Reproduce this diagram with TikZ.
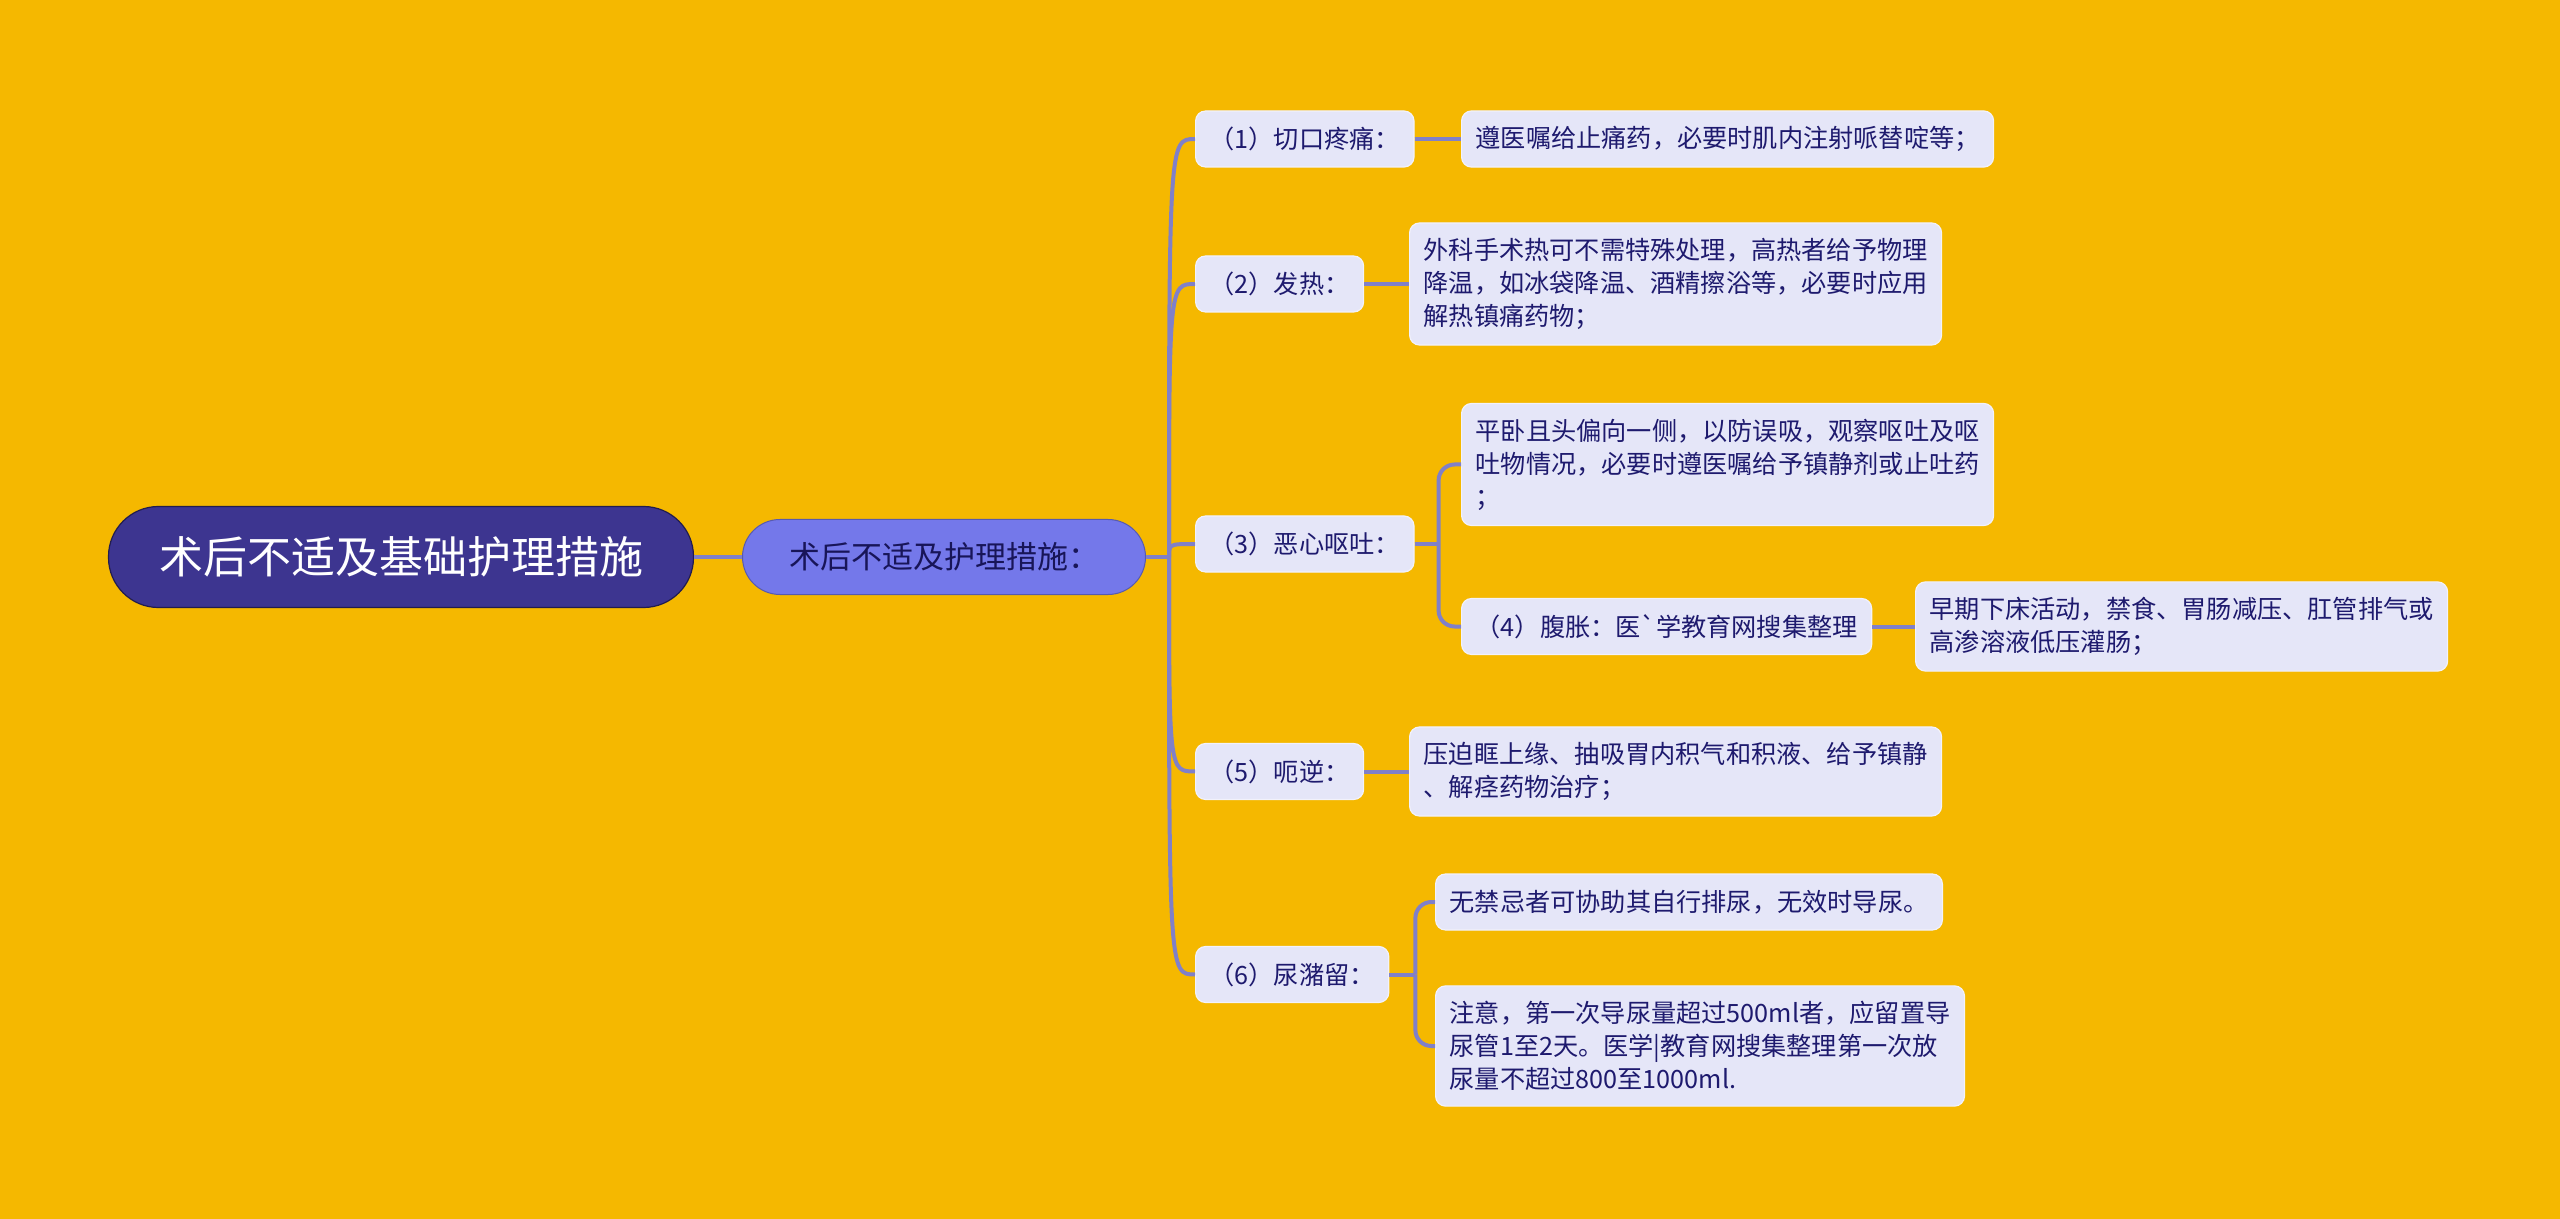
\documentclass[tikz,border=0pt]{standalone}
\usepackage{fontspec}
\setmainfont{Noto Sans CJK SC}
\usepackage{tikz}
\usetikzlibrary{calc}
\usepackage{xcolor}

\definecolor{bgyellow}{HTML}{F5B800}
\definecolor{rootpurple}{HTML}{3D3590}
\definecolor{mainblue}{HTML}{7478EA}
\definecolor{itemfill}{HTML}{E5E6F8}
\definecolor{linkcolor}{HTML}{8080C8}
\definecolor{inkblue}{HTML}{1E1A6E}

\begin{document}
\begin{tikzpicture}[x=0.5pt,y=-0.5pt,
    root/.style={rectangle, rounded corners=25pt, fill=rootpurple, draw=rootpurple!55!black,
        line width=0.6pt, text=white, minimum width=292.5pt, minimum height=50.5pt,
        font=\fontsize{22pt}{26pt}\selectfont},
    main/.style={rectangle, rounded corners=18.75pt, fill=mainblue, draw=mainblue!75!black,
        line width=0.5pt, text=inkblue!80!black, minimum width=201.5pt, minimum height=37.5pt,
        font=\fontsize{15.5pt}{18pt}\selectfont},
    item/.style={rectangle, rounded corners=5pt, fill=itemfill, draw=itemfill!50!white,
        line width=0.6pt, text=inkblue, anchor=west, align=left, inner xsep=7pt,
        inner ysep=7.7pt, minimum height=28pt, font=\fontsize{12.6pt}{16.5pt}\selectfont},
    link/.style={draw=linkcolor, line width=2pt},
    trunk/.style={link, to path={.. controls (\tikztostart |- \tikztotarget) .. (\tikztotarget)}},
    elbow/.style={link, rounded corners=8pt, to path={|- (\tikztotarget)}}
]
    \fill[bgyellow] (0,0) rectangle (2560,1219);
    \useasboundingbox (0,0) rectangle (2560,1219);

    % centre
    \node[root](topic) at (401,557)  {术后不适及基础护理措施};
    \node[main](care)  at (944,557)  {术后不适及护理措施：};

    % symptoms
    \node[item](pain)   at (1195,139)   {（1）切口疼痛：};
    \node[item](fever)  at (1195,284)   {（2）发热：};
    \node[item](nausea) at (1195,544)   {（3）恶心呕吐：};
    \node[item](hiccup) at (1195,771.5) {（5）呃逆：};
    \node[item](urine)  at (1195,974.5) {（6）尿潴留：};

    % measures
    \node[item](painA)   at (1461,139)   {遵医嘱给止痛药，必要时肌内注射哌替啶等；};
    \node[item](feverA)  at (1409,284)   {外科手术热可不需特殊处理，高热者给予物理\\降温，如冰袋降温、酒精擦浴等，必要时应用\\解热镇痛药物；};
    \node[item](nauseaA) at (1461,464.5) {平卧且头偏向一侧，以防误吸，观察呕吐及呕\\吐物情况，必要时遵医嘱给予镇静剂或止吐药\\；};
    \node[item](bloat)   at (1461,626.5) {（4）腹胀：医\textasciigrave 学教育网搜集整理};
    \node[item](bloatA)  at (1915,626.5) {早期下床活动，禁食、胃肠减压、肛管排气或\\高渗溶液低压灌肠；};
    \node[item](hiccupA) at (1409,771.5) {压迫眶上缘、抽吸胃内积气和积液、给予镇静\\、解痉药物治疗；};
    \node[item](urineA)  at (1435,902)   {无禁忌者可协助其自行排尿，无效时导尿。};
    \node[item](urineB)  at (1435,1046)  {注意，第一次导尿量超过500ml者，应留置导\\尿管1至2天。医学|教育网搜集整理第一次放\\尿量不超过800至1000ml.};

    \coordinate (hub)   at ($(care.east)+(23,0)$);
    \coordinate (fork3) at ($(nausea.east)+(24,0)$);
    \coordinate (fork6) at ($(urine.east)+(26,0)$);

    \path
        (topic.east)  edge [link]  (care.west)
        (care.east)   edge [link]  (hub)
        (hub)         edge [trunk] (pain.west)
                      edge [trunk] (fever.west)
                      edge [trunk] (nausea.west)
                      edge [trunk] (hiccup.west)
                      edge [trunk] (urine.west)
        (pain.east)   edge [link]  (painA.west)
        (fever.east)  edge [link]  (feverA.west)
        (nausea.east) edge [link]  (fork3)
        (fork3)       edge [elbow] (nauseaA.west)
                      edge [elbow] (bloat.west)
        (bloat.east)  edge [link]  (bloatA.west)
        (hiccup.east) edge [link]  (hiccupA.west)
        (urine.east)  edge [link]  (fork6)
        (fork6)       edge [elbow] (urineA.west)
                      edge [elbow] (urineB.west)
        ;
\end{tikzpicture}
\end{document}
